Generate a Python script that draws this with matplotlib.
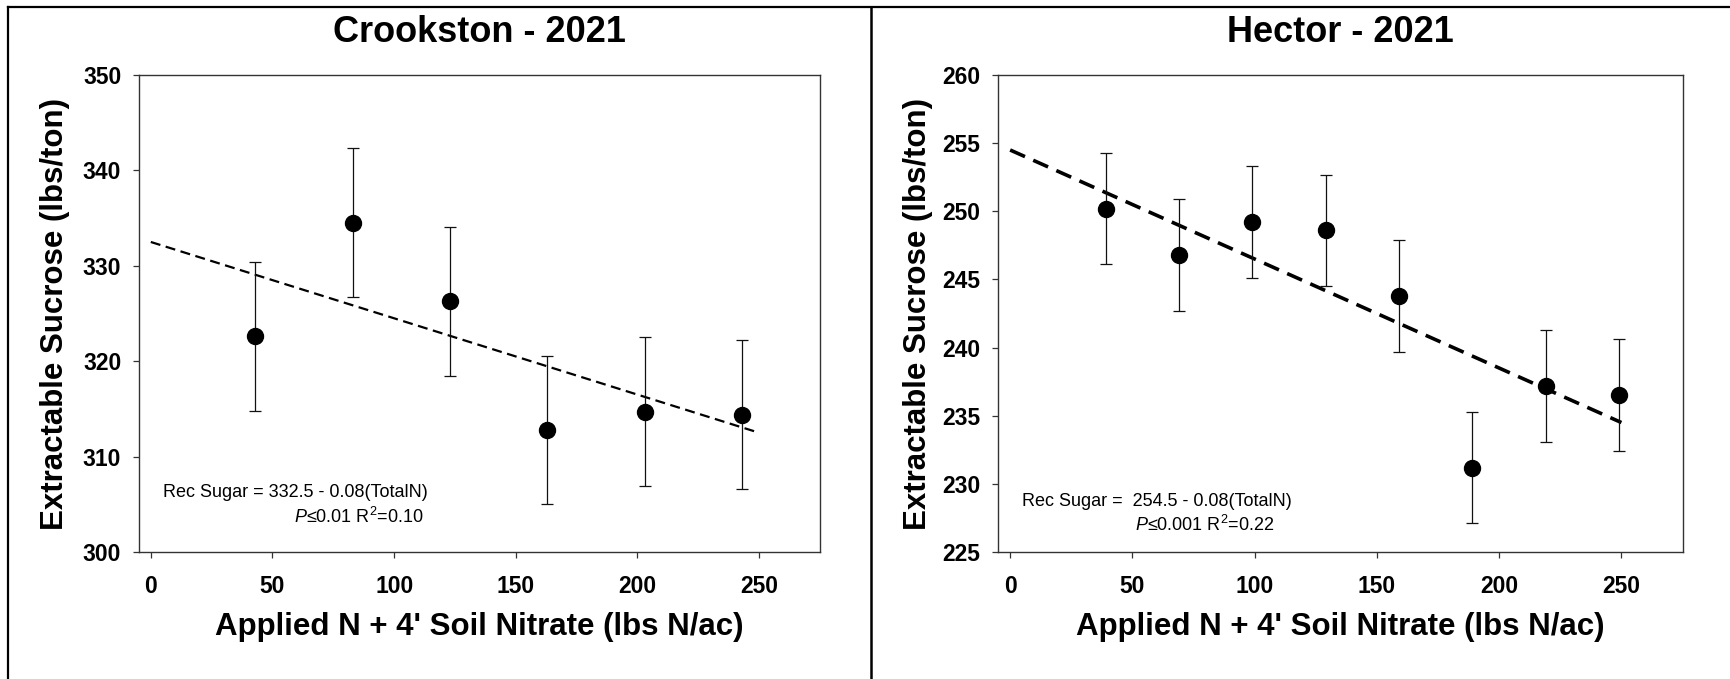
import numpy as np
import matplotlib.pyplot as plt
from matplotlib.lines import Line2D

plt.rcParams['font.family'] = ['Liberation Sans', 'DejaVu Sans']
plt.rcParams['mathtext.fontset'] = 'custom'
plt.rcParams['mathtext.rm'] = 'Liberation Sans'
plt.rcParams['mathtext.it'] = 'Liberation Sans:italic'

# Crookston 2021
crk_n = [43, 83, 123, 163, 203, 243]
crk_suc = [322.6, 334.5, 326.3, 312.8, 314.7, 314.4]
crk_err = [7.8, 7.8, 7.8, 7.8, 7.8, 7.8]
crk_fit = [332.5, -0.08]

# Hector 2021
hec_n = [39, 69, 99, 129, 159, 189, 219, 249]
hec_suc = [250.2, 246.8, 249.2, 248.6, 243.8, 231.2, 237.2, 236.5]
hec_err = [4.1, 4.1, 4.1, 4.1, 4.1, 4.1, 4.1, 4.1]
hec_fit = [254.5, -0.08]

x_ticks = [0, 50, 100, 150, 200, 250]
crk_yticks = [300, 310, 320, 330, 340, 350]
hec_yticks = [225, 230, 235, 240, 245, 250, 255, 260]

fig = plt.figure(figsize=(17.31, 6.79), dpi=100)
ax1 = fig.add_axes([0.0801, 0.187, 0.3936, 0.7025])
ax2 = fig.add_axes([0.5765, 0.187, 0.3955, 0.7025])


def panel(ax, x, y, err, fit, yticks, title, eq1, eq2, eqy, fit_lw, ylab_x):
    ax.errorbar(x, y, yerr=err, fmt='o', color='black', ms=11.5,
                ecolor='#111111', elinewidth=0.9, capsize=4.5, capthick=0.9,
                zorder=3)
    xx = np.array([0, 250])
    ax.plot(xx, fit[0] + fit[1] * xx, color='black', lw=fit_lw,
            ls=(0, (4.5, 2.5)), zorder=2)
    ax.set_xlim(-5, 275)
    ax.set_ylim(yticks[0], yticks[-1])
    ax.set_xticks(x_ticks)
    ax.set_yticks(yticks)
    for s in ax.spines.values():
        s.set_color('#333333')
        s.set_linewidth(1.0)
    ax.tick_params(direction='out', length=4.5, width=0.9, color='#333333',
                   labelsize=16.5)
    ax.tick_params(axis='x', pad=12)
    ax.tick_params(axis='y', pad=8)
    for lab in ax.get_xticklabels() + ax.get_yticklabels():
        lab.set_fontweight('bold')
    ax.text(0.5, 1.09, title, transform=ax.transAxes, ha='center',
            va='center', fontsize=26, fontweight='bold')
    ax.text(0.5, -0.158, "Applied N + 4' Soil Nitrate (lbs N/ac)",
            transform=ax.transAxes, ha='center', va='center', fontsize=22.5,
            fontweight='bold')
    ax.text(ylab_x, 0.5, 'Extractable Sucrose (lbs/ton)', rotation=90,
            transform=ax.transAxes, ha='center', va='center', fontsize=22.5,
            fontweight='bold')
    ax.text(eqy[0], eqy[1], eq1, transform=ax.transAxes, ha='left',
            va='center', fontsize=13)
    ax.text(eqy[2], eqy[3], eq2, transform=ax.transAxes, ha='right',
            va='center', fontsize=13)


panel(ax1, crk_n, crk_suc, crk_err, crk_fit, crk_yticks, 'Crookston - 2021',
      'Rec Sugar = 332.5 - 0.08(TotalN)',
      r'$\mathit{P}$≤0.01 R$^2$=0.10',
      (0.036, 0.124, 0.418, 0.073), 1.6, -0.123)
panel(ax2, hec_n, hec_suc, hec_err, hec_fit, hec_yticks, 'Hector - 2021',
      'Rec Sugar =  254.5 - 0.08(TotalN)',
      r'$\mathit{P}$≤0.001 R$^2$=0.22',
      (0.035, 0.105, 0.404, 0.057), 2.6, -0.117)

# panel frames
top = 1 - 6.5 / 679
fig.add_artist(Line2D([8.5 / 1731, 1], [top, top], color='black', lw=1.6))
fig.add_artist(Line2D([8.5 / 1731, 8.5 / 1731], [0, top], color='black', lw=1.6))
fig.add_artist(Line2D([870.7 / 1731, 870.7 / 1731], [0, top], color='black', lw=1.8))

fig.savefig('out.png', dpi=100)
